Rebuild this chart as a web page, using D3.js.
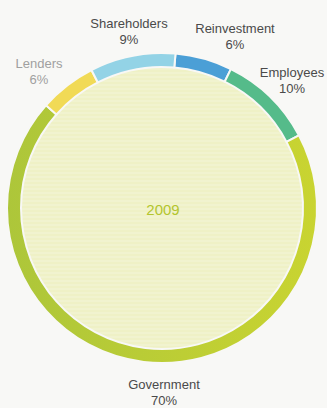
<!DOCTYPE html>
<html>
<head>
<meta charset="utf-8">
<script src="https://cdn.jsdelivr.net/npm/d3@7/dist/d3.min.js"></script>
<style>
  html, body { margin: 0; padding: 0; background: #f8f8f6; }
  svg { display: block; }
</style>
</head>
<body>
<svg id="chart" width="327" height="408"></svg>
<script>
// Distribution of value, 2009 (clockwise from just right of 12 o'clock)
const categories = ["Reinvestment", "Employees", "Government", "Lenders", "Shareholders"];
const shares = [6, 10, 70, 6, 9];
const colors = ["#4b9fd6", "#55bb8a", "url(#govGrad)", "#f1da56", "#93d3e6"];
const yearLabel = "2009";

const svg = d3.select("#chart");
const cx = 162, cy = 208;
const outerR = 155, innerR = 141;
const startDeg = 5;

const defs = svg.append("defs");
// the government band shifts from olive on the left to yellow-green on the right
const grad = defs.append("linearGradient").attr("id", "govGrad")
  .attr("gradientUnits", "userSpaceOnUse")
  .attr("x1", -outerR).attr("y1", 0).attr("x2", outerR).attr("y2", 0);
grad.append("stop").attr("offset", 0).attr("stop-color", "#adc63a");
grad.append("stop").attr("offset", 1).attr("stop-color", "#c9d431");

const pat = defs.append("pattern").attr("id", "stripes")
  .attr("patternUnits", "userSpaceOnUse").attr("width", 6).attr("height", 4);
pat.append("rect").attr("width", 6).attr("height", 2).attr("fill", "#f5f6dc");

const pie = d3.pie().sort(null).value(d => d.value)
  .startAngle(startDeg * Math.PI / 180)
  .endAngle((startDeg + 360) * Math.PI / 180);

const data = categories.map((c, i) => ({ name: c, value: shares[i], color: colors[i] }));
const arcs = pie(data);

const g = svg.append("g").attr("transform", `translate(${cx},${cy})`);

// pale inner disc with a faint horizontal texture
g.append("circle").attr("r", innerR).attr("fill", "#eff1c6");
g.append("circle").attr("r", innerR).attr("fill", "url(#stripes)").attr("opacity", 0.4);

// outer ring segments
const arc = d3.arc().innerRadius(innerR).outerRadius(outerR);
g.selectAll("path.seg").data(arcs).join("path")
  .attr("class", "seg")
  .attr("d", arc)
  .attr("fill", d => d.data.color)
  .attr("stroke", "#f8f8f6")
  .attr("stroke-width", 2);

// year in the middle
g.append("text").text(yearLabel)
  .attr("x", 1).attr("y", 7)
  .attr("text-anchor", "middle")
  .attr("font-family", "Liberation Sans, Arial, sans-serif")
  .attr("font-size", 15)
  .attr("fill", "#b3c52e");

// category labels placed outside the ring
const labelPos = {
  "Shareholders": [129, 28],
  "Reinvestment": [235, 33],
  "Employees": [292, 77],
  "Lenders": [39, 68],
  "Government": [164, 389]
};
const labelColor = { "Lenders": "#a0a0a0" };

data.forEach(d => {
  const [x, y] = labelPos[d.name];
  const t = svg.append("text")
    .attr("text-anchor", "middle")
    .attr("font-family", "Liberation Sans, Arial, sans-serif")
    .attr("font-size", 13)
    .attr("fill", labelColor[d.name] || "#4a4a4a");
  t.append("tspan").attr("x", x).attr("y", y).text(d.name);
  t.append("tspan").attr("x", x).attr("y", y + 16).text(d.value + "%");
});
</script>
</body>
</html>
